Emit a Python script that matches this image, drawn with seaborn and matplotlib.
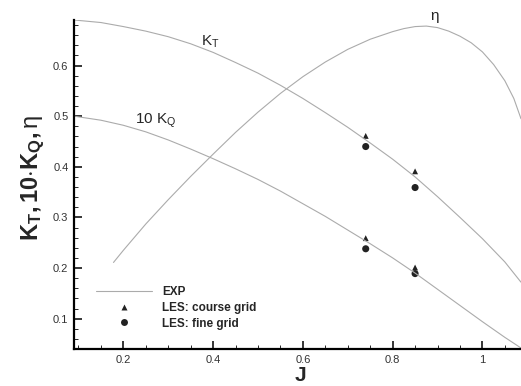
import numpy as np
import pandas as pd
import seaborn as sns
import matplotlib.pyplot as plt
from matplotlib.ticker import MultipleLocator, FuncFormatter
from matplotlib.lines import Line2D

j_kt = [0.09, 0.15, 0.2, 0.25, 0.3, 0.35, 0.4, 0.45, 0.5, 0.55, 0.6, 0.65,
        0.7, 0.75, 0.8, 0.85, 0.9, 0.95, 1.0, 1.05, 1.086]
kt = [0.690, 0.685, 0.677, 0.668, 0.657, 0.643, 0.626, 0.606, 0.585, 0.561, 0.535, 0.507,
      0.478, 0.447, 0.415, 0.380, 0.341, 0.300, 0.258, 0.212, 0.172]

j_kq = [0.09, 0.15, 0.2, 0.25, 0.3, 0.35, 0.4, 0.45, 0.5, 0.55, 0.6, 0.65,
        0.7, 0.75, 0.8, 0.85, 0.9, 0.95, 1.0, 1.05, 1.086]
kq10 = [0.500, 0.492, 0.482, 0.469, 0.453, 0.435, 0.416, 0.396, 0.375, 0.352, 0.327, 0.302,
        0.275, 0.248, 0.220, 0.190, 0.158, 0.126, 0.094, 0.063, 0.042]

j_eta = [0.178, 0.2, 0.25, 0.3, 0.35, 0.4, 0.45, 0.5, 0.55, 0.6, 0.65, 0.7,
         0.75, 0.8, 0.825, 0.85, 0.875, 0.9, 0.925, 0.95, 0.975, 1.0,
         1.025, 1.05, 1.07, 1.086]
eta = [0.211, 0.235, 0.287, 0.335, 0.381, 0.425, 0.468, 0.508, 0.545, 0.578, 0.607, 0.632,
       0.652, 0.667, 0.673, 0.677, 0.678, 0.675, 0.668, 0.658, 0.645, 0.627,
       0.602, 0.570, 0.535, 0.495]

# LES results
j_les = [0.74, 0.85]
kt_coarse = [0.461, 0.391]
kq10_coarse = [0.259, 0.201]
kt_fine = [0.440, 0.359]
kq10_fine = [0.238, 0.189]

sns.set_style('ticks')
plt.rcParams['font.family'] = ['Liberation Sans', 'DejaVu Sans']
plt.rcParams['mathtext.fontset'] = 'custom'
plt.rcParams['mathtext.rm'] = 'Liberation Sans'
plt.rcParams['mathtext.it'] = 'Liberation Sans:italic'
plt.rcParams['mathtext.bf'] = 'Liberation Sans:bold'

exp_col = '#ababab'
mk_col = '#222222'

fig = plt.figure(figsize=(5.21, 3.86), dpi=100)
ax = fig.add_axes([74/521, 37/386, 447/521, 329/386])

sns.lineplot(x=j_kt, y=kt, color=exp_col, lw=0.8, ax=ax)
sns.lineplot(x=j_kq, y=kq10, color=exp_col, lw=0.8, ax=ax)
sns.lineplot(x=j_eta, y=eta, color=exp_col, lw=0.8, ax=ax)

sns.scatterplot(x=j_les * 2, y=kt_coarse + kq10_coarse, marker='^', s=18,
                color=mk_col, edgecolor='none', ax=ax)
sns.scatterplot(x=j_les * 2, y=kt_fine + kq10_fine, marker='o', s=26,
                color=mk_col, edgecolor='none', ax=ax)

ax.set_xlim(0.09, 1.086)
ax.set_ylim(0.04, 0.69)

ax.xaxis.set_major_locator(MultipleLocator(0.2))
ax.xaxis.set_minor_locator(MultipleLocator(0.05))
ax.yaxis.set_major_locator(MultipleLocator(0.1))
ax.yaxis.set_minor_locator(MultipleLocator(0.02))
ax.xaxis.set_major_formatter(FuncFormatter(lambda v, p: '%g' % round(v, 2)))
ax.yaxis.set_major_formatter(FuncFormatter(lambda v, p: '%g' % round(v, 2)))

ax.tick_params(which='major', direction='in', length=6, width=1.3,
               labelsize=8, labelcolor='#333333', pad=4)
ax.tick_params(which='minor', direction='in', length=3, width=0.7)

sns.despine(ax=ax)
for s in ['left', 'bottom']:
    ax.spines[s].set_linewidth(1.6)
    ax.spines[s].set_color('black')

ax.set_ylabel(r'$\mathbf{K_{T},10{\cdot}K_{Q},}\mathrm{\eta}$', fontsize=17)
ax.yaxis.set_label_coords(-0.06, 0.52)
ax.set_xlabel('J', fontsize=15, fontweight='bold')
ax.xaxis.set_label_coords(0.506, -0.052)

ax.text(0.393, 0.647, r'K$_\mathrm{T}$', ha='center', va='center', fontsize=11)
ax.text(0.271, 0.491, r'10 K$_\mathrm{Q}$', ha='center', va='center', fontsize=11)
ax.text(0.894, 0.698, 'η', ha='center', va='center', fontsize=11, clip_on=False)

handles = [Line2D([], [], color=exp_col, lw=0.8),
           Line2D([], [], marker='^', ls='none', color=mk_col, ms=4, mec='none'),
           Line2D([], [], marker='o', ls='none', color=mk_col, ms=5, mec='none')]
labels = ['EXP', 'LES: course grid', 'LES: fine grid']
ax.legend(handles, labels, loc='upper left', bbox_to_anchor=(0.05, 0.19),
          frameon=False, prop={'weight': 'bold', 'size': 8.5},
          handlelength=4.7, handletextpad=0.85, labelspacing=0.3,
          borderaxespad=0, borderpad=0)

fig.savefig('out.png', dpi=100)
